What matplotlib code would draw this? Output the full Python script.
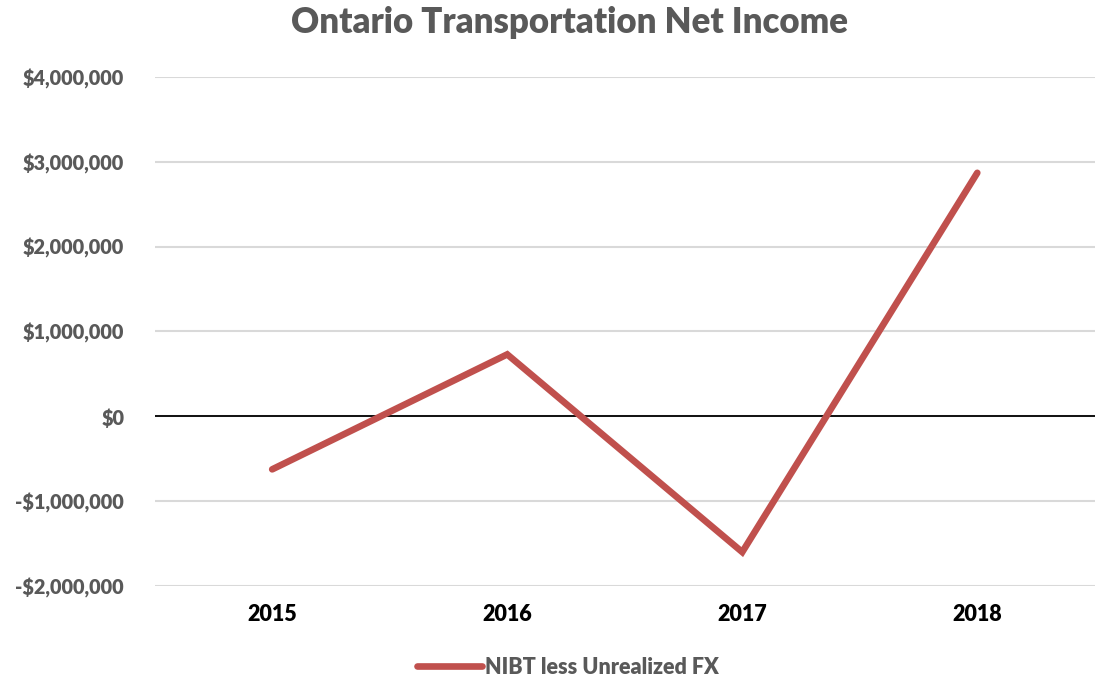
import matplotlib.pyplot as plt
from matplotlib.ticker import FuncFormatter

# data
years = ['2015', '2016', '2017', '2018']
nibt_less_fx = [-625000, 730000, -1600000, 2870000]
series_name = 'NIBT less Unrealized FX'
y_ticks = [-2000000, -1000000, 0, 1000000, 2000000, 3000000, 4000000]

plt.rcParams['font.family'] = ['Lato', 'DejaVu Sans']
plt.rcParams['font.weight'] = 'heavy'

grey = '#595959'

fig = plt.figure(figsize=(10.97, 6.81), dpi=100)
ax = fig.add_axes([0.141, 0.1395, 0.857, 0.7475])

x = range(len(years))
ax.plot(x, nibt_less_fx, color='#C0504D', lw=4.8, solid_capstyle='round',
        solid_joinstyle='miter', label=series_name, zorder=3)

ax.set_xlim(-0.5, len(years) - 0.5)
ax.set_ylim(min(y_ticks), max(y_ticks))
ax.set_yticks(y_ticks)
ax.grid(axis='y', color='#D9D9D9', lw=1.5)
ax.axhline(0, color='black', lw=1.3, zorder=2)
ax.set_axisbelow(True)

def money(v, pos):
    if v < 0:
        return '-${:,.0f}'.format(-v)
    return '${:,.0f}'.format(v)

ax.yaxis.set_major_formatter(FuncFormatter(money))
ax.set_xticks(list(x))
ax.set_xticklabels(years)

for s in ax.spines.values():
    s.set_visible(False)
ax.tick_params(axis='y', length=0, pad=22, labelsize=14.3, labelcolor=grey)
ax.tick_params(axis='x', length=0, pad=13, labelsize=15.5, labelcolor='black')

fig.text(0.519, 0.967, 'Ontario Transportation Net Income', ha='center', va='center',
         fontsize=25, color=grey, fontweight='heavy')

leg = fig.legend(loc='center', bbox_to_anchor=(0.518, 0.02), frameon=False,
                 fontsize=15.5, handlelength=3.0, handletextpad=0.15)
for t in leg.get_texts():
    t.set_color(grey)

fig.savefig('out.png', dpi=100)
